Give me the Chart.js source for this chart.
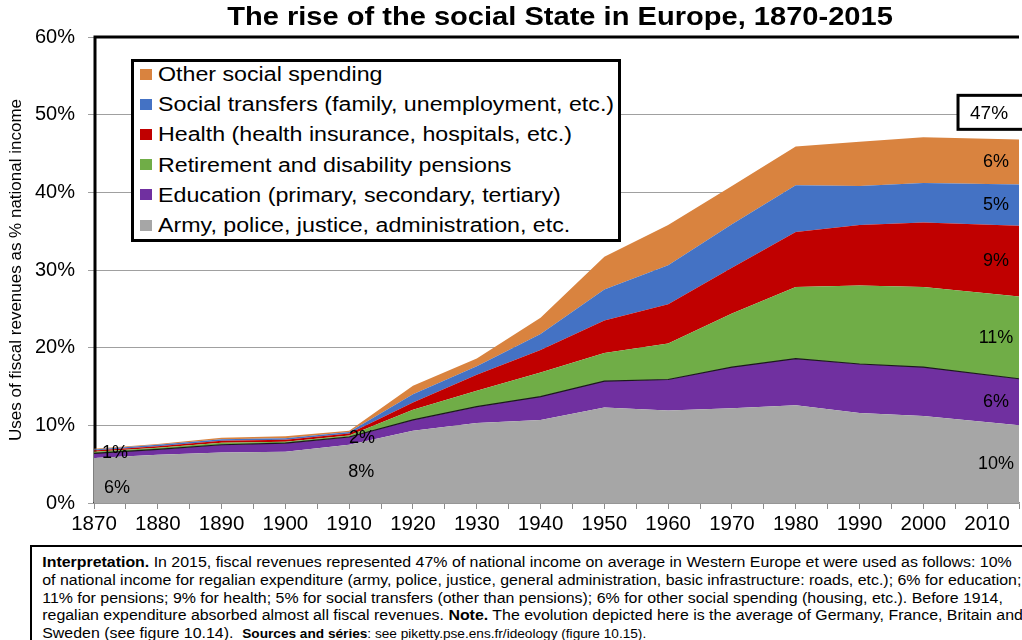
<!DOCTYPE html>
<html>
<head>
<meta charset="utf-8">
<script src="https://cdn.jsdelivr.net/npm/chart.js@4.4.0/dist/chart.umd.min.js"></script>
<style>
  body { margin: 0; background: #fff; font-family: "Liberation Sans", Arial, sans-serif; }
  #wrap { position: relative; width: 1022px; height: 640px; overflow: hidden; }
  #title { position: absolute; left: 560px; top: 2px; transform: translateX(-50%) scaleX(1.14);
           font-weight: bold; font-size: 25.5px; color: #000; white-space: nowrap; }
  #chartBox { position: absolute; left: 0; top: 0; width: 1022px; height: 545px; }
  #legend { position: absolute; left: 131px; top: 59px; width: 484px; height: 177px;
            border: 3px solid #000; background: #fff; }
  #legend .row { height: 30.2px; line-height: 30px; font-size: 19.5px; color: #000;
                 white-space: nowrap; display: flex; align-items: center; }
  #legend .row:first-child { margin-top: -3px; }
  #legend .sw { width: 12px; height: 11px; margin: 0 6px 0 6px; flex: none; }
  #legend .txt { display: inline-block; transform: scaleX(1.19); transform-origin: left center; }
  #note { position: absolute; left: 30px; top: 545px; width: 1010px; height: 110px;
          border-top: 2px solid #000; border-left: 2px solid #000; box-sizing: border-box; }
  #note .inner { padding: 7px 0 0 9px; font-size: 14px; line-height: 17.8px; color: #000; white-space: nowrap;
                 transform: scaleX(1.137); transform-origin: left top; }
  #note .small { font-size: 12px; }
</style>
</head>
<body>
<div id="wrap">
  <div id="chartBox"><canvas id="chart"></canvas></div>
  <div id="title">The rise of the social State in Europe, 1870-2015</div>
  <div id="legend"></div>
  <div id="note"><div class="inner">
    <b>Interpretation.</b> In 2015, fiscal revenues represented 47% of national income on average in Western Europe et were used as follows: 10%<br>
    of national income for regalian expenditure (army, police, justice, general administration, basic infrastructure: roads, etc.); 6% for education;<br>
    11% for pensions; 9% for health; 5% for social transfers (other than pensions); 6% for other social spending (housing, etc.). Before 1914,<br>
    regalian expenditure absorbed almost all fiscal revenues. <b>Note.</b> The evolution depicted here is the average of Germany, France, Britain and<br>
    Sweden (see figure 10.14).&nbsp; <span class="small"><b>Sources and séries</b>: see piketty.pse.ens.fr/ideology (figure 10.15).</span>
  </div></div>
</div>
<script>
// values in % of national income
const years = [1870, 1880, 1890, 1900, 1910, 1920, 1930, 1940, 1950, 1960, 1970, 1980, 1990, 2000, 2015];
const army = [5.8, 6.2, 6.5, 6.6, 7.5, 9.3, 10.3, 10.7, 12.3, 11.9, 12.2, 12.6, 11.6, 11.2, 10.0];
const education = [0.6, 0.7, 1.0, 1.1, 1.0, 1.4, 2.1, 3.0, 3.4, 4.0, 5.3, 6.0, 6.3, 6.3, 6.0];
const pensions = [0.2, 0.2, 0.25, 0.2, 0.2, 1.3, 2.05, 3.1, 3.6, 4.65, 6.9, 9.2, 10.1, 10.3, 10.6];
const health = [0.15, 0.2, 0.25, 0.25, 0.25, 0.95, 2.05, 2.9, 4.2, 5.05, 5.9, 7.1, 7.8, 8.3, 9.1];
const transfers = [0.15, 0.2, 0.2, 0.2, 0.2, 1.05, 1.1, 2.05, 4.0, 5.0, 5.6, 6.0, 5.0, 5.1, 5.3];
const other = [0.1, 0.1, 0.2, 0.25, 0.15, 1.1, 1.0, 2.1, 4.2, 5.2, 4.9, 5.0, 5.7, 5.9, 5.8];

const seriesNames = [
    'Army, police, justice, administration, etc.',
    'Education (primary, secondary, tertiary)',
    'Retirement and disability pensions',
    'Health (health insurance, hospitals, etc.)',
    'Social transfers (family, unemployment, etc.)',
    'Other social spending'
];
const seriesColors = ['#A6A6A6', '#7030A0', '#70AD47', '#C00000', '#4472C4', '#D9833F'];
const seriesValues = [army, education, pensions, health, transfers, other];

// small labels placed in data coordinates
const notes = [
    { text: '6%', year: 1873.6, value: 1.9 },
    { text: '1%', year: 1873.3, value: 6.4 },
    { text: '8%', year: 1911.9, value: 4.0 },
    { text: '2%', year: 1912.0, value: 8.4 }
];
const totalLabel = { text: '47%', year: 2010.3, value: 50.3 };
const endLabelYear = 2011.4;

const FONT = '"Liberation Sans", Arial, sans-serif';

// legend, top to bottom as in the picture
const legendEl = document.getElementById('legend');
for (let i = seriesNames.length - 1; i >= 0; i--) {
    const row = document.createElement('div');
    row.className = 'row';
    row.innerHTML = `<span class="sw" style="background:${seriesColors[i]}"></span><span class="txt">${seriesNames[i]}</span>`;
    legendEl.appendChild(row);
}

const datasets = seriesValues.map((vals, i) => ({
    label: seriesNames[i],
    data: years.map((y, j) => ({ x: y, y: vals[j] })),
    backgroundColor: seriesColors[i],
    borderColor: i === 1 ? '#1a1a1a' : seriesColors[i],
    borderWidth: i === 1 ? 1.2 : 0,
    fill: i === 0 ? 'origin' : '-1',
    pointRadius: 0,
    tension: 0
}));

// black frame on the left and top, drawn under the areas
const framePlugin = {
    id: 'frame',
    beforeDatasetsDraw(chart) {
        const { ctx, chartArea: a } = chart;
        ctx.save();
        ctx.strokeStyle = '#000';
        ctx.lineWidth = 3;
        ctx.beginPath();
        ctx.moveTo(a.left + 1, a.bottom);
        ctx.lineTo(a.left + 1, a.top);
        ctx.lineTo(a.right, a.top);
        ctx.stroke();
        ctx.restore();
    }
};

const labelPlugin = {
    id: 'labels',
    afterDatasetsDraw(chart) {
        const { ctx } = chart;
        const xs = chart.scales.x, ys = chart.scales.y;
        ctx.save();
        ctx.fillStyle = '#000';
        ctx.textAlign = 'center';
        ctx.textBaseline = 'middle';
        ctx.font = '18px ' + FONT;
        notes.forEach(n => {
            ctx.fillText(n.text, xs.getPixelForValue(n.year), ys.getPixelForValue(n.value));
        });
        // share of each category in 2015, written in the middle of its band
        let base = 0;
        seriesValues.forEach(vals => {
            const v = vals[vals.length - 1];
            ctx.fillText(Math.round(v) + '%', xs.getPixelForValue(endLabelYear), ys.getPixelForValue(base + v / 2));
            base += v;
        });
        // boxed total
        const cx = xs.getPixelForValue(totalLabel.year);
        const cy = ys.getPixelForValue(totalLabel.value);
        ctx.fillStyle = '#fff';
        ctx.fillRect(cx - 31, cy - 17, 66, 34);
        ctx.strokeStyle = '#000';
        ctx.lineWidth = 3;
        ctx.strokeRect(cx - 31, cy - 17, 66, 34);
        ctx.fillStyle = '#000';
        ctx.font = '19px ' + FONT;
        ctx.fillText(totalLabel.text, cx, cy + 1);
        ctx.restore();
    }
};

new Chart(document.getElementById('chart'), {
    type: 'line',
    data: { datasets },
    options: {
        responsive: true,
        maintainAspectRatio: false,
        animation: false,
        layout: { padding: { top: 37, right: 0, left: 0, bottom: 0 } },
        plugins: {
            legend: { display: false },
            tooltip: { enabled: false }
        },
        scales: {
            x: {
                type: 'linear',
                min: 1870,
                max: 2015,
                border: { display: true, color: '#8c8c8c', width: 1.5 },
                grid: { display: true, drawOnChartArea: false, tickLength: 6, color: '#8c8c8c' },
                ticks: {
                    stepSize: 5,
                    autoSkip: false,
                    maxRotation: 0,
                    padding: 3,
                    color: '#000',
                    font: { size: 20.5, family: FONT },
                    callback: v => (v % 10 === 0 ? String(v) : '')
                },
                afterFit: s => { s.height = 42; }
            },
            y: {
                stacked: true,
                min: 0,
                max: 60,
                border: { display: true, color: '#8c8c8c' },
                grid: { color: '#a0a0a0', tickLength: 6, lineWidth: 1 },
                ticks: {
                    stepSize: 10,
                    padding: 13,
                    color: '#000',
                    font: { size: 20, family: FONT },
                    callback: v => v + '%'
                },
                title: {
                    display: true,
                    text: 'Uses of fiscal revenues as % national income',
                    color: '#000',
                    font: { size: 17, family: FONT },
                    padding: { top: 6, bottom: 0 }
                },
                afterFit: s => { s.width = 94; }
            }
        }
    },
    plugins: [framePlugin, labelPlugin]
});
</script>
</body>
</html>
